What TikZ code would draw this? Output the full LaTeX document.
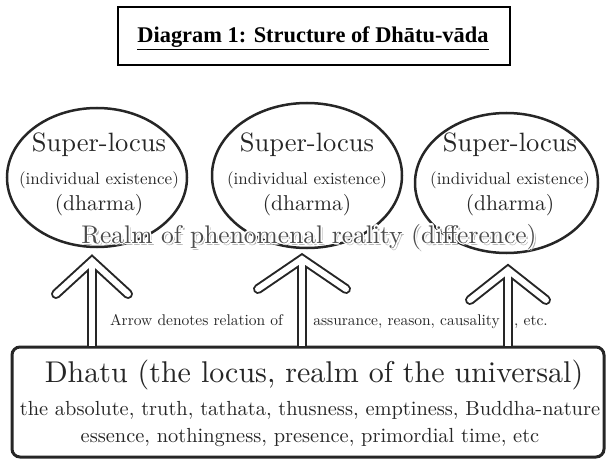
\documentclass[tikz,border=0pt]{standalone}
\usepackage{fontspec}
\setmainfont{lmroman10-regular.otf}
\newfontfamily\titlefont{Liberation Serif}
\usepackage[copies]{contour}
\contournumber{16}
\usetikzlibrary{shapes.geometric, calc}

\tikzset{
  superlocus/.style={ellipse, draw=black!85, line width=2.5pt, inner sep=0pt},
  suptitle/.style={anchor=base, text=black!85, font=\fontsize{26.5}{30}\selectfont},
  supindiv/.style={anchor=base, text=black!85, font=\fontsize{17}{20}\selectfont},
  supdharma/.style={anchor=base, text=black!85, font=\fontsize{21.5}{24}\selectfont},
  realm/.style={anchor=base, text=black!70, font=\fontsize{25.5}{30}\selectfont},
  relation/.style={anchor=base, text=black!85, font=\fontsize{15.5}{18}\selectfont},
  dhatubox/.style={draw=black!85, line width=3pt, rounded corners=8pt, fill=white},
  dhatuhead/.style={anchor=base, text=black!85, font=\fontsize{30}{34}\selectfont},
  dhatutext/.style={anchor=base, text=black!85, font=\fontsize{20.4}{24}\selectfont},
  arrowout/.style={draw=black!85, line width=10pt},
  arrowin/.style={draw=white, line width=6pt}
}

% text with a white halo and a soft grey shadow
\newcommand{\glowtext}[1]{%
  \makebox[0pt][l]{\hspace*{2pt}\raisebox{-2pt}{\textcolor{black!30}{#1}}}%
  \contourlength{1.3pt}\contour{white}{#1}}

\begin{document}
\begin{tikzpicture}[x=1pt, y=-1pt]
  \useasboundingbox (0,0) rectangle (606,460);

  % Title box
  \draw[line width=2pt] (118,7) rectangle (510,65);
  \node[anchor=base, font=\titlefont\bfseries\fontsize{22.4}{26}\selectfont] (title) at (313,43)
    {\underline{Diagram 1: Structure of Dhātu-vāda}};

  % Super-loci
  \foreach \i/\cx/\cy/\w/\h/\tx in {1/97/177.5/180/139/99, 2/307/175.5/190/145/307, 3/506.5/183/183/140/510} {
    \node[superlocus, minimum width=\w pt, minimum height=\h pt] (sup\i) at (\cx,\cy) {};
    \node[suptitle] (suptitle\i) at (\tx,152) {Super-locus};
    \node[supindiv] (supindiv\i) at (\tx,184.5) {(individual existence)};
    \node[supdharma] (supdharma\i) at (\tx,211) {(dharma)};
  }

  % Realm of phenomenal reality
  \node[realm] (realm) at (309,243) {\glowtext{Realm of phenomenal reality (difference)}};

  % Dhatu box
  \node[dhatubox, minimum width=592pt, minimum height=110pt] (dhatu) at (308,402) {};
  \node[dhatuhead] (dhatuhead) at (314,382) {Dhatu (the locus, realm of the universal)};
  \node[dhatutext] (dhatuline1) at (310,415) {the absolute, truth, tathata, thusness, emptiness, Buddha-nature};
  \node[dhatutext] (dhatuline2) at (310,442) {essence, nothingness, presence, primordial time, etc};

  % Hollow arrows: outline first, then white core
  \coordinate (tip1) at (92,261);
  \coordinate (tip2) at (302,259);
  \coordinate (tip3) at (508,270);
  \foreach \sty in {arrowout, arrowin} {
    \foreach \i/\ax/\ay in {1/36/33, 2/44/30, 3/38/30} {
      \draw[\sty, line cap=round, line join=miter] ($(tip\i)+(-\ax,\ay)$) -- (tip\i) -- ($(tip\i)+(\ax,\ay)$);
      \draw[\sty] (tip\i) -- (tip\i |- dhatu.north);
    }
  }

  % Relation note
  \node[relation] (rel1) at (196.5,325) {Arrow denotes relation of};
  \node[relation] (rel2) at (406.5,325) {assurance, reason, causality};
  \node[relation] (rel3) at (531,325) {, etc.};
\end{tikzpicture}
\end{document}
